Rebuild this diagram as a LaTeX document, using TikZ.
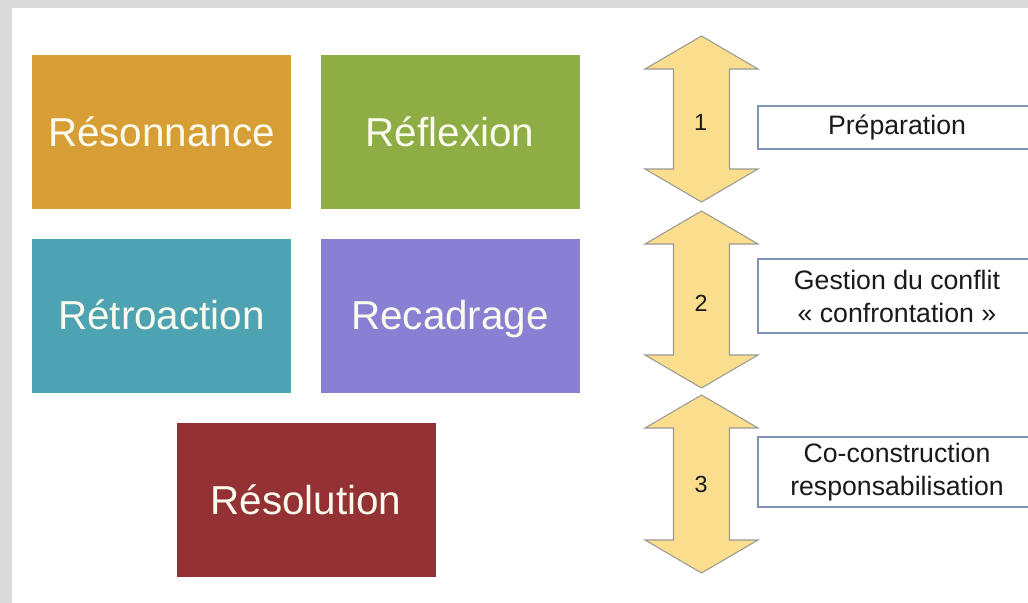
\documentclass[tikz,border=0pt]{standalone}
\usepackage{fontspec}
\setmainfont{Liberation Sans}
\definecolor{bggray}{HTML}{DADADA}
\definecolor{cReso}{HTML}{D89E36}
\definecolor{cRefl}{HTML}{8EAE45}
\definecolor{cRetr}{HTML}{4DA3B1}
\definecolor{cReca}{HTML}{8A80D3}
\definecolor{cReso2}{HTML}{943134}
\definecolor{boxtext}{HTML}{FAFAEE}
\definecolor{arrfill}{HTML}{FBDE8D}
\definecolor{arrline}{HTML}{9A9A96}
\definecolor{lblline}{HTML}{8093B3}
\definecolor{lbltext}{HTML}{1A1A1A}
\tikzset{
  bigbox/.style={rectangle, draw=none, minimum width=194.25pt, minimum height=115.5pt,
    inner sep=0pt, text=boxtext, font=\fontsize{30.3}{36}\selectfont,
    text height=21.7pt, text depth=0pt},
  arrowsty/.style={fill=arrfill, draw=arrline, line width=0.8pt, line join=miter},
  numsty/.style={inner sep=0pt, text=lbltext, font=\fontsize{17.5}{20}\selectfont,
    text height=12.5pt, text depth=0pt},
  lblbox/.style={rectangle, fill=white, draw=lblline, line width=1.2pt,
    minimum width=208.5pt, inner sep=0pt, align=center, text=lbltext,
    font=\fontsize{20}{24.75}\selectfont}
}
\newcommand{\vdarrow}[2]{%
  \draw[arrowsty] (701.5,#1) -- (758,#1+33) -- (729.5,#1+33) -- (729.5,#2-33)
    -- (758,#2-33) -- (701.5,#2) -- (645,#2-33) -- (673.5,#2-33)
    -- (673.5,#1+33) -- (645,#1+33) -- cycle;}
\begin{document}
\begin{tikzpicture}[x=0.75pt,y=-0.75pt]
\useasboundingbox (0,0) rectangle (1028,603);
\clip (0,0) rectangle (1028,603);
\fill[bggray] (0,0) rectangle (1028,603);
\fill[white] (12,8) rectangle (1028,603);
% big boxes
\node[bigbox, fill=cReso] (reso) at (161.5,132) {Résonnance};
\node[bigbox, fill=cRefl] (refl) at (450,132) {Réflexion};
\node[bigbox, fill=cRetr] (retr) at (161.5,315.5) {Rétroaction};
\node[bigbox, fill=cReca] (reca) at (450,315.5) {Recadrage};
\node[bigbox, fill=cReso2] (resol) at (306,500) {Résolution};
% double arrows
\vdarrow{36}{202}
\vdarrow{211}{388}
\vdarrow{395}{573}
\node[numsty] (n1) at (700.5,122) {1};
\node[numsty] (n2) at (701,303) {2};
\node[numsty] (n3) at (701,484.5) {3};
% label boxes
\node[lblbox, minimum height=32.25pt] (l1) at (897,127.5) {Préparation};
\node[lblbox, minimum height=55.5pt] (l2) at (897,296) {Gestion du conflit\\« confrontation »};
\node[lblbox, minimum height=52.5pt] (l3) at (897,472) {Co-construction\\responsabilisation};
\end{tikzpicture}
\end{document}
